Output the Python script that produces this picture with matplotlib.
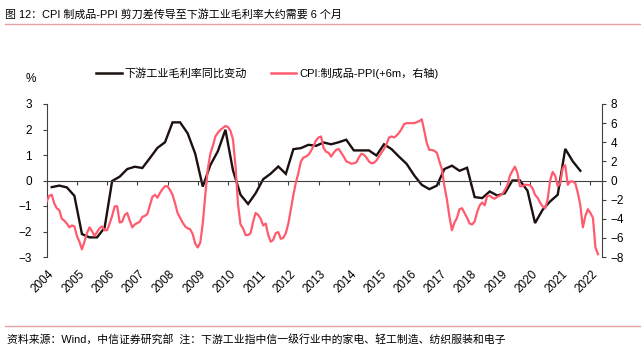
import matplotlib
matplotlib.use("Agg")
import matplotlib.pyplot as plt
from matplotlib.lines import Line2D
import pandas as pd
import numpy as np

plt.rcParams['font.family'] = ['Liberation Sans', 'Noto Sans CJK SC', 'DejaVu Sans']

title = "图 12：CPI 制成品-PPI 剪刀差传导至下游工业毛利率大约需要 6 个月"
footer = "资料来源：Wind，中信证券研究部  注：下游工业指中信一级行业中的家电、轻工制造、纺织服装和电子"
label_black = "下游工业毛利率同比变动"
label_pink = "CPI:制成品-PPI(+6m，右轴)"

years = list(range(2004, 2023))

# Quarterly, starting 2004-03
black_start = "2004-03"
black_values = [
    -0.26, -0.20, -0.27, -0.60,
    -2.10, -2.23, -2.23, -1.85,
    -0.02, 0.15, 0.45, 0.54,
    0.49, 0.88, 1.28, 1.50,
    2.28, 2.28, 1.85, 1.05,
    -0.24, 0.60, 1.15, 1.99,
    0.40, -0.56, -0.92, -0.50,
    0.05, 0.27, 0.55, 0.26,
    1.23, 1.27, 1.40, 1.36,
    1.49, 1.42, 1.50, 1.60,
    1.18, 1.18, 1.18, 0.98,
    1.42, 1.23, 0.93, 0.65,
    0.20, -0.17, -0.34, -0.20,
    0.45, 0.58, 0.38, 0.50,
    -0.65, -0.69, -0.43, -0.59,
    -0.50, 0.00, 0.00, -0.40,
    -1.67, -1.15, -0.82, -0.56,
    1.24, 0.75, 0.38,
]

# Monthly, starting 2004-01
pink_start = "2004-01"
pink_values = [
    -2.2, -1.6, -1.5, -2.4, -2.9, -3.1, -4.0, -4.2, -4.5, -4.9, -4.7, -4.8,
    -5.8, -6.4, -7.2, -6.4, -5.5, -4.9, -5.3, -5.8, -5.4, -5.0, -4.8, -5.2,
    -5.2, -4.5, -3.7, -2.7, -2.7, -4.4, -4.3, -3.6, -3.4, -4.2, -4.9, -4.6,
    -4.45, -4.3, -3.8, -3.7, -3.5, -2.6, -1.7, -1.5, -1.8, -1.3, -0.9, -0.6,
    -0.6, -1.0, -1.5, -2.4, -3.4, -3.9, -4.4, -4.8, -5.0, -5.1, -5.6, -6.6,
    -7.0, -6.5, -4.5, -1.5, 1.2, 2.8, 3.6, 4.6, 5.0, 5.3, 5.5, 5.7,
    5.6, 5.2, 4.3, 1.5, -2.5, -4.6, -5.0, -5.7, -5.7, -5.5, -4.3, -3.4,
    -3.6, -4.0, -4.7, -4.5, -5.7, -6.4, -6.2, -5.5, -5.4, -6.1, -6.0, -5.5,
    -4.5, -3.0, -1.5, -0.2, 0.8, 2.0, 2.4, 2.5, 2.7, 3.1, 3.6, 4.2,
    4.5, 4.6, 3.4, 3.0, 2.9, 2.5, 2.9, 3.2, 3.3, 2.9, 2.5, 2.0,
    1.9, 1.75, 1.8, 1.9, 2.4, 2.8, 2.7, 2.4, 2.0, 1.8, 1.85, 2.1,
    2.5, 2.9, 3.3, 3.8, 4.5, 4.6, 4.5, 4.7, 5.0, 5.4, 5.9, 6.0,
    6.0, 6.0, 6.0, 6.1, 6.2, 6.4, 5.2, 3.9, 3.2, 3.2, 3.1, 2.9,
    2.0, 1.2, -0.6, -2.0, -3.8, -5.2, -4.4, -3.9, -3.0, -2.9, -3.4, -3.9,
    -4.5, -4.6, -4.3, -3.3, -2.6, -2.3, -2.6, -1.6, -1.6, -1.8, -1.9, -1.7,
    -1.6, -1.4, -1.0, -0.5, 0.5, 1.0, 1.45, 0.8, -0.6, -0.6, -0.45, -0.45,
    -0.5, -0.8, -1.5, -1.8, -2.3, -2.7, -2.9, -2.0, 0.0, 0.9, 0.5, -0.6,
    -0.3, 1.3, 1.6, -0.45, -0.1, -0.1, -0.3, -1.3, -2.6, -4.9, -3.7, -3.0,
    -3.4, -3.9, -7.0, -7.7,
]

left_ticks = [-3, -2, -1, 0, 1, 2, 3]
right_ticks = [-8, -6, -4, -2, 0, 2, 4, 6, 8]


def to_decimal_year(dates):
    return dates.year + (dates.month - 1) / 12.0


black_dates = pd.date_range(black_start, periods=len(black_values), freq="3MS")
pink_dates = pd.date_range(pink_start, periods=len(pink_values), freq="MS")
bx = to_decimal_year(black_dates)
px = to_decimal_year(pink_dates)

BLACK = "#1c1010"
PINK = "#ff5b6e"
RULE = "#e8a3a3"
AXC = "#404040"

fig = plt.figure(figsize=(6.41, 3.55), dpi=100)
ax = fig.add_axes([46.7 / 641, 1 - 257 / 355, (602.5 - 46.7) / 641, (257 - 104) / 355])
ax2 = ax.twinx()

ax.plot(bx, black_values, color=BLACK, lw=1.7, solid_joinstyle="miter")
ax2.plot(px, pink_values, color=PINK, lw=1.6)

ax.set_xlim(2004.0, 2022.4)
ax.set_ylim(-3, 3)
ax2.set_ylim(-8, 8)
ax.set_yticks(left_ticks)
ax2.set_yticks(right_ticks)
ax.set_xticks(years)

for a in (ax, ax2):
    a.spines['top'].set_visible(False)
    a.patch.set_visible(False)
ax.spines['right'].set_visible(False)
ax2.spines['left'].set_visible(False)
ax2.spines['bottom'].set_visible(False)
ax.spines['bottom'].set_position(('data', 0))
for s in ('left', 'bottom'):
    ax.spines[s].set_color(AXC)
    ax.spines[s].set_linewidth(0.8)
ax2.spines['right'].set_color(AXC)
ax2.spines['right'].set_linewidth(0.8)

ax.tick_params(axis='x', direction='out', length=3, width=0.8, color=AXC, labelbottom=False)
ax.tick_params(axis='y', direction='out', length=3, width=0.8, color=AXC, labelsize=8.5, pad=7.5)
ax2.tick_params(axis='y', direction='out', length=3, width=0.8, color=AXC, labelsize=8.5, pad=3)

for y in years:
    ax.text(y + 0.05, -0.075, str(y), transform=ax.get_xaxis_transform(),
            rotation=45, rotation_mode='anchor', ha='right', va='top', fontsize=8.5)

fig.text(5 / 641, 1 - 14 / 355, title, fontsize=7.9, ha='left', va='center')
fig.add_artist(Line2D([5 / 641, 1.0], [1 - 24 / 355, 1 - 24 / 355], color=RULE, lw=1.0))
fig.add_artist(Line2D([5 / 641, 1.0], [1 - 326 / 355, 1 - 326 / 355], color=RULE, lw=1.0))
fig.text(7 / 641, 1 - 339 / 355, footer, fontsize=7.8, ha='left', va='center')
fig.text(31 / 641, 1 - 79 / 355, "%", fontsize=8.5, ha='center', va='center')

handles = [Line2D([], [], color=BLACK, lw=1.8), Line2D([], [], color=PINK, lw=1.8)]
fig.legend(handles, [label_black, label_pink], loc='center left',
           bbox_to_anchor=(96 / 641, 1 - 73 / 355), ncol=2, frameon=False,
           fontsize=8.0, handlelength=2.3, handletextpad=0.3, columnspacing=2.1,
           borderpad=0, borderaxespad=0)

fig.savefig("out.png", dpi=100)
